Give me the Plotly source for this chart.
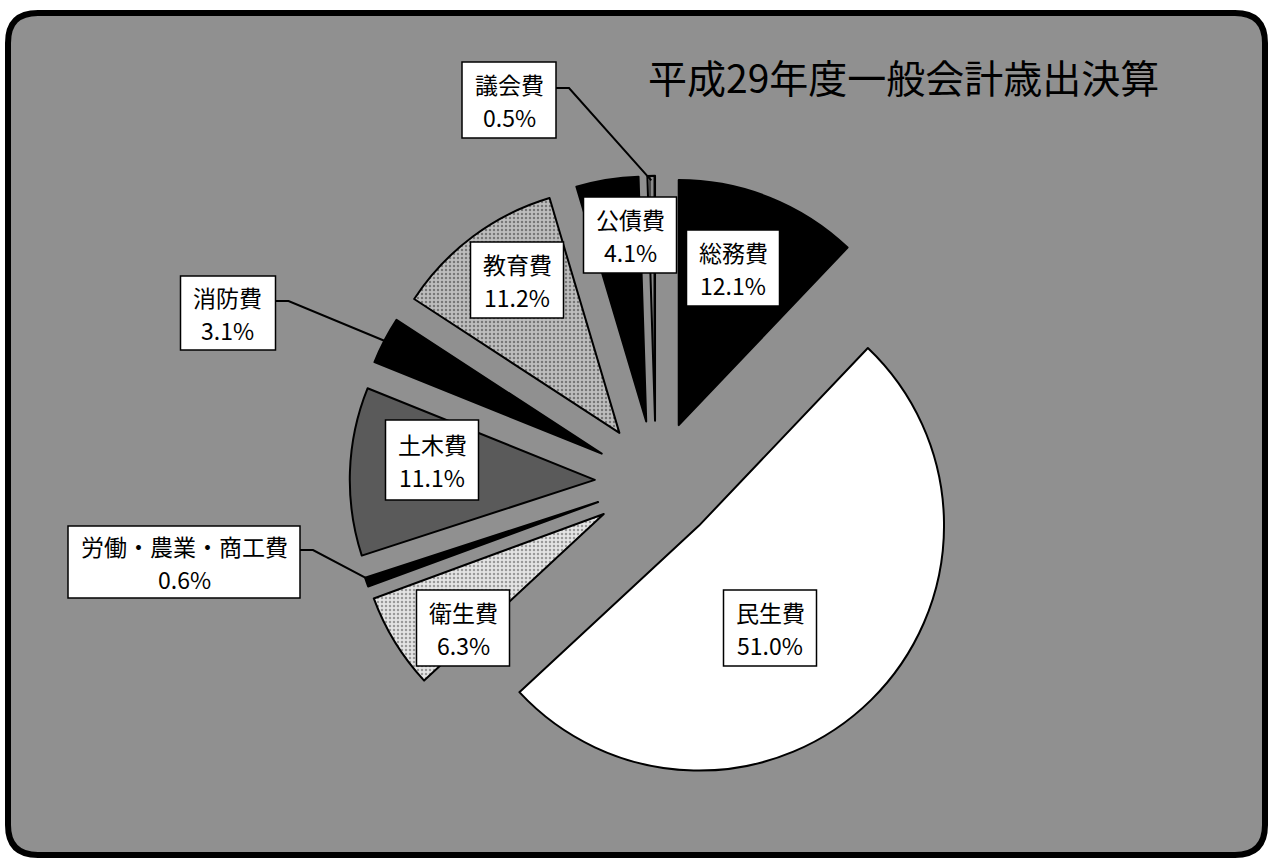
import numpy as np
import plotly.graph_objects as go

# ---------------- data ----------------
categories = ["総務費", "民生費", "衛生費", "労働・農業・商工費", "土木費",
              "消防費", "教育費", "公債費", "議会費"]
shares = [12.1, 51.0, 6.3, 0.6, 11.1, 3.1, 11.2, 4.1, 0.5]
pct_labels = ["12.1%", "51.0%", "6.3%", "0.6%", "11.1%", "3.1%", "11.2%", "4.1%", "0.5%"]
title_text = "平成29年度一般会計歳出決算"

# ---------------- styles / layout ----------------
W, H = 1272, 862
slice_colors = ["#000000", "#ffffff", "#e4e4e4", "#000000", "#5a5a5a",
                "#000000", "#bdbdbd", "#000000", "#8a8a8a"]
slice_patterns = ["", "", ".", "", "", "", ".", "", "|"]
pattern_fg = ["#000", "#000", "#9a9a9a", "#000", "#000", "#000", "#777777", "#000", "#1a1a1a"]
pattern_bg = slice_colors
BG = "#909090"
FONT = "Noto Sans CJK JP"

# pie geometry (pixels)
CX, CY = 656, 482
R = 245
PULL = 0.25
half = R * (1 + PULL)

# label box centres and sizes (pixels) ; leader flag
label_px = {
    "総務費": (733, 268, 93, 76, False),
    "民生費": (770, 628, 93, 76, False),
    "衛生費": (463, 628, 93, 76, False),
    "労働・農業・商工費": (184, 562, 232, 72, True),
    "土木費": (432, 460, 93, 80, False),
    "消防費": (228, 313, 95, 74, True),
    "教育費": (517, 280, 93, 76, False),
    "公債費": (630, 235, 93, 76, False),
    "議会費": (509, 100, 94, 76, True),
}


def px2paper(x, y):
    return x / W, 1 - y / H


def P(x, y):
    a, b = px2paper(x, y)
    return f"{a:.5f},{b:.5f}"


fig = go.Figure()

fig.add_trace(go.Pie(
    labels=categories,
    values=shares,
    sort=False,
    direction="clockwise",
    rotation=0,
    pull=[PULL] * len(shares),
    textinfo="none",
    hoverinfo="label+percent",
    showlegend=False,
    marker=dict(
        colors=slice_colors,
        line=dict(color="#000000", width=2),
        pattern=dict(shape=slice_patterns, fgcolor=pattern_fg, bgcolor=pattern_bg,
                     size=4, solidity=0.3, fillmode="replace"),
    ),
    domain=dict(x=[(CX - half) / W, (CX + half) / W],
                y=[1 - (CY + half) / H, 1 - (CY - half) / H]),
))

# rounded frame
x0, y0, x1, y1, rc = 8, 13, 1265, 855, 30
frame = (f"M {P(x0 + rc, y0)} L {P(x1 - rc, y0)} Q {P(x1, y0)} {P(x1, y0 + rc)} "
         f"L {P(x1, y1 - rc)} Q {P(x1, y1)} {P(x1 - rc, y1)} "
         f"L {P(x0 + rc, y1)} Q {P(x0, y1)} {P(x0, y1 - rc)} "
         f"L {P(x0, y0 + rc)} Q {P(x0, y0)} {P(x0 + rc, y0)} Z")
shapes = [dict(type="path", path=frame, xref="paper", yref="paper",
               fillcolor=BG, line=dict(color="#000000", width=6), layer="below")]

# leader anchors derived from the data
vals = np.array(shares, dtype=float)
start = np.cumsum(vals) - vals
mid_deg = (start + vals / 2) / vals.sum() * 360.0

annotations = []
for i, cat in enumerate(categories):
    bx, by, bw, bh, leader = label_px[cat]
    shapes.append(dict(type="rect", xref="paper", yref="paper",
                       x0=(bx - bw / 2) / W, x1=(bx + bw / 2) / W,
                       y0=1 - (by + bh / 2) / H, y1=1 - (by - bh / 2) / H,
                       fillcolor="#ffffff", line=dict(color="#000000", width=1.5),
                       layer="above"))
    if leader:
        th = np.radians(mid_deg[i])
        axp = CX + R * (1 + PULL) * 0.985 * np.sin(th)
        ayp = CY - R * (1 + PULL) * 0.985 * np.cos(th)
        sx, sy = bx + bw / 2, by - 12
        shapes.append(dict(type="path", xref="paper", yref="paper",
                           path=f"M {P(sx, sy)} L {P(sx + 13, sy)} L {P(axp, ayp)}",
                           line=dict(color="#000000", width=2), layer="above"))
    for txt, dy in ((cat, -16), (pct_labels[i], 17)):
        xp, yp = px2paper(bx, by + dy)
        annotations.append(dict(
            x=xp, y=yp, xref="paper", yref="paper", text=txt, showarrow=False,
            xanchor="center", yanchor="middle",
            font=dict(family=FONT, size=23, color="#000000")))

tx, ty = px2paper(904, 76)
annotations.append(dict(
    x=tx, y=ty, xref="paper", yref="paper", text=title_text, showarrow=False,
    font=dict(family=FONT, size=39, color="#000000"),
    xanchor="center", yanchor="middle"))

fig.update_layout(
    width=W, height=H,
    margin=dict(l=0, r=0, t=0, b=0),
    paper_bgcolor="#ffffff",
    plot_bgcolor="#ffffff",
    shapes=shapes,
    annotations=annotations,
    showlegend=False,
)

fig.write_html("out.html")
